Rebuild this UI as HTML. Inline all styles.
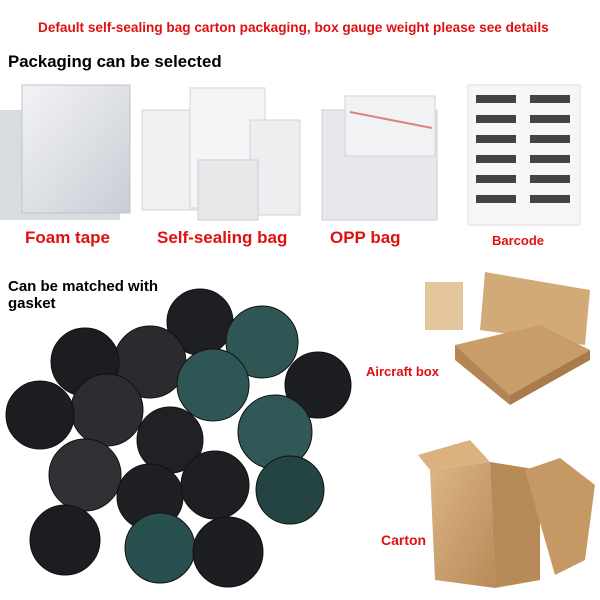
<!DOCTYPE html>
<html><head><meta charset="utf-8"><style>
body{margin:0;width:600px;height:600px;background:#fff;position:relative;overflow:hidden;font-family:"Liberation Sans",sans-serif}
.t{position:absolute;font-weight:bold;white-space:nowrap}
.r{color:#e01010}
</style></head><body>
<div class="t r" style="left:38px;top:20px;font-size:13.6px">Default self-sealing bag carton packaging, box gauge weight please see details</div>
<div class="t" style="left:8px;top:52px;font-size:16.8px">Packaging can be selected</div>
<svg width="600" height="600" style="position:absolute;left:0;top:0">
<defs>
<linearGradient id="fg" x1="0" y1="0" x2="1" y2="1"><stop offset="0" stop-color="#f2f3f6"/><stop offset="1" stop-color="#c9cdd4"/></linearGradient>
<linearGradient id="cb" x1="0" y1="0" x2="1" y2="1"><stop offset="0" stop-color="#ddb587"/><stop offset="1" stop-color="#b88a58"/></linearGradient>
</defs>
<rect x="0" y="110" width="120" height="110" fill="#d8dbe0"/>
<rect x="22" y="85" width="108" height="128" fill="url(#fg)" stroke="#bfc3ca"/>
<rect x="142" y="110" width="70" height="100" fill="#eef0f2" stroke="#cfd3d8"/>
<rect x="190" y="88" width="75" height="120" fill="#f4f5f6" stroke="#cfd3d8"/>
<rect x="250" y="120" width="50" height="95" fill="#eceef0" stroke="#cfd3d8"/>
<rect x="198" y="160" width="60" height="60" fill="#e6e8ea" stroke="#c8ccd1"/>
<rect x="322" y="110" width="115" height="110" fill="#e6e8ec" stroke="#c8ccd2"/>
<rect x="345" y="96" width="90" height="60" fill="#f1f2f4" stroke="#d0d3d8"/>
<line x1="350" y1="112" x2="432" y2="128" stroke="#e08080" stroke-width="2"/>
<rect x="468" y="85" width="112" height="140" fill="#f6f6f6" stroke="#ddd"/>
<g fill="#444">
<rect x="476" y="95" width="40" height="8"/><rect x="530" y="95" width="40" height="8"/>
<rect x="476" y="115" width="40" height="8"/><rect x="530" y="115" width="40" height="8"/>
<rect x="476" y="135" width="40" height="8"/><rect x="530" y="135" width="40" height="8"/>
<rect x="476" y="155" width="40" height="8"/><rect x="530" y="155" width="40" height="8"/>
<rect x="476" y="175" width="40" height="8"/><rect x="530" y="175" width="40" height="8"/>
<rect x="476" y="195" width="40" height="8"/><rect x="530" y="195" width="40" height="8"/>
</g>
<g stroke="#111" stroke-width="1">
<circle cx="200" cy="322" r="33" fill="#1e1f22"/>
<circle cx="150" cy="362" r="36" fill="#2a2b2e"/>
<circle cx="262" cy="342" r="36" fill="#2f5555"/>
<circle cx="85" cy="362" r="34" fill="#1c1d20"/>
<circle cx="213" cy="385" r="36" fill="#2f5656"/>
<circle cx="107" cy="410" r="36" fill="#2c2d30"/>
<circle cx="318" cy="385" r="33" fill="#1d1e21"/>
<circle cx="40" cy="415" r="34" fill="#1d1e21"/>
<circle cx="170" cy="440" r="33" fill="#202124"/>
<circle cx="275" cy="432" r="37" fill="#315858"/>
<circle cx="85" cy="475" r="36" fill="#303134"/>
<circle cx="150" cy="497" r="33" fill="#1f2023"/>
<circle cx="215" cy="485" r="34" fill="#1e1f22"/>
<circle cx="290" cy="490" r="34" fill="#244444"/>
<circle cx="65" cy="540" r="35" fill="#1c1d20"/>
<circle cx="160" cy="548" r="35" fill="#27504e"/>
<circle cx="228" cy="552" r="35" fill="#1d1e21"/>
</g>
<rect x="425" y="282" width="38" height="48" fill="#e2c59a"/>
<polygon points="485,272 590,290 585,345 480,330" fill="#d2aa78"/>
<polygon points="455,345 540,325 590,350 510,395" fill="#c99d6a"/>
<polygon points="455,345 510,395 510,405 455,360" fill="#b48555"/>
<polygon points="510,395 590,350 590,360 510,405" fill="#a97a4b"/>
<polygon points="430,470 490,462 495,588 435,580" fill="url(#cb)"/>
<polygon points="490,462 540,470 540,580 495,588" fill="#b88a58"/>
<polygon points="418,455 470,440 490,462 430,470" fill="#d9b27f"/>
<polygon points="525,470 560,458 595,485 585,560 555,575 535,505" fill="#c69864"/>
</svg>
<div class="t r" style="left:25px;top:228px;font-size:17px">Foam tape</div>
<div class="t r" style="left:157px;top:228px;font-size:17px">Self-sealing bag</div>
<div class="t r" style="left:330px;top:228px;font-size:17px">OPP bag</div>
<div class="t r" style="left:492px;top:233px;font-size:13px">Barcode</div>
<div class="t" style="left:8px;top:278px;font-size:15px;line-height:17px">Can be matched with<br>gasket</div>
<div class="t r" style="left:366px;top:364px;font-size:13px">Aircraft box</div>
<div class="t r" style="left:381px;top:532px;font-size:14px">Carton</div>
</body></html>
